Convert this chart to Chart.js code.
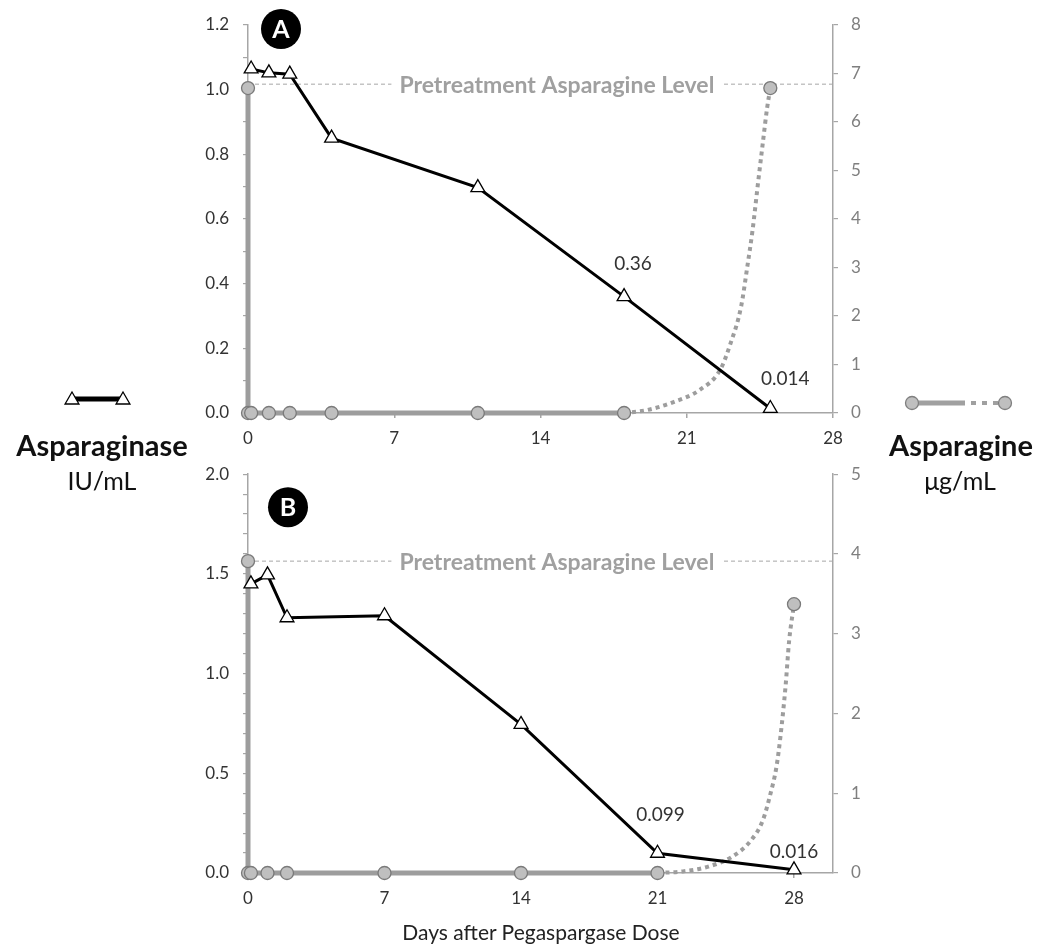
<!DOCTYPE html>
<html>
<head>
<meta charset="utf-8">
<script src="https://cdn.jsdelivr.net/npm/chart.js@4.4.0/dist/chart.umd.min.js"></script>
<style>
  body { margin: 0; background: #fff; font-family: Lato, sans-serif; }
  #wrap { position: relative; width: 1044px; height: 946px; }
  canvas { position: absolute; left: 0; }
  .t { position: absolute; color: #111; white-space: nowrap; transform: translate(-50%, -50%); }
</style>
</head>
<body>
<div id="wrap">
  <canvas id="chartA" width="1044" height="450" style="top:0"></canvas>
  <canvas id="chartB" width="1044" height="496" style="top:450px"></canvas>
  <div class="t" style="left:102px;top:444px;font-size:29px;font-weight:bold">Asparaginase</div>
  <div class="t" style="left:102px;top:480px;font-size:25px">IU/mL</div>
  <div class="t" style="left:961px;top:444px;font-size:29px;font-weight:bold">Asparagine</div>
  <div class="t" style="left:960px;top:480px;font-size:25px">μg/mL</div>
  <div class="t" style="left:541px;top:931px;font-size:21px;color:#222">Days after Pegaspargase Dose</div>
</div>
<script>
// Panel A
const daysA = [0.15, 1, 2, 4, 11, 18, 25];
const asparaginaseA = [1.064, 1.052, 1.048, 0.85, 0.697, 0.36, 0.014];
const asnDaysA = [0, 0, 0.15, 1, 2, 4, 11, 18];
const asparagineA = [6.7, 0, 0, 0, 0, 0, 0, 0];
const recoveryDaysA = [18, 19.1, 20.4, 21.6, 22.6, 23.1, 23.6, 23.9, 24.15, 24.4, 24.65, 24.85, 25];
const recoveryA = [0, 0.06, 0.23, 0.47, 0.89, 1.44, 2.19, 3.02, 3.77, 4.7, 5.6, 6.3, 6.7];
const pretreatmentA = 6.78;
const labeledA = [5, 6];

// Panel B
const daysB = [0.15, 1, 2, 7, 14, 21, 28];
const asparaginaseB = [1.45, 1.495, 1.28, 1.29, 0.745, 0.099, 0.016];
const asnDaysB = [0, 0, 0.15, 1, 2, 7, 14, 21];
const asparagineB = [3.91, 0, 0, 0, 0, 0, 0, 0];
const recoveryDaysB = [21, 22.3, 23.6, 24.8, 25.8, 26.4, 26.8, 27.1, 27.3, 27.57, 27.75, 28];
const recoveryB = [0, 0.02, 0.08, 0.2, 0.41, 0.66, 1.0, 1.33, 1.7, 2.35, 2.91, 3.37];
const pretreatmentB = 3.91;
const labeledB = [5, 6];

const dayTicks = 7;
const preText = 'Pretreatment Asparagine Level';

Chart.defaults.font.family = 'Lato';

const pts = (xs, ys) => xs.map((x, i) => ({ x: x, y: ys[i] }));

const decorations = {
  id: 'decorations',
  afterDatasetsDraw(chart, args, o) {
    const { ctx, chartArea: a, scales } = chart;
    ctx.save();
    // pretreatment label on the dashed line
    const yPre = scales.y2.getPixelForValue(o.pre);
    ctx.font = 'bold 23px Lato';
    ctx.textAlign = 'center';
    ctx.textBaseline = 'middle';
    const cx = a.left + a.width * 0.528;
    const w = ctx.measureText(preText).width;
    ctx.fillStyle = '#fff';
    ctx.fillRect(cx - w / 2 - 8, yPre - 12, w + 16, 24);
    ctx.fillStyle = '#a0a0a0';
    ctx.fillText(preText, cx, yPre + 1);

    // value labels
    ctx.font = '19px Lato';
    ctx.fillStyle = '#333';
    o.labeled.forEach((i, k) => {
      const x = scales.x.getPixelForValue(o.days[i]);
      const y = scales.y.getPixelForValue(o.values[i]);
      ctx.fillText(String(o.values[i]), x + o.offsets[k][0], y + o.offsets[k][1]);
    });

    // panel badge
    ctx.beginPath();
    ctx.arc(a.left + o.badge[0], a.top + o.badge[1], 20, 0, Math.PI * 2);
    ctx.fillStyle = '#000';
    ctx.fill();
    ctx.fillStyle = '#fff';
    ctx.font = 'bold 25px Lato';
    ctx.fillText(o.letter, a.left + o.badge[0], a.top + o.badge[1] + 1);

    // side legend symbols
    if (o.legend) {
      ctx.lineWidth = 5;
      ctx.strokeStyle = '#000';
      ctx.beginPath(); ctx.moveTo(72, 399); ctx.lineTo(123, 399); ctx.stroke();
      [72, 123].forEach(x => {
        ctx.fillStyle = '#fff'; ctx.strokeStyle = '#000'; ctx.lineWidth = 1.3;
        Chart.helpers.drawPoint(ctx, { pointStyle: 'triangle', radius: 8, borderWidth: 1.3 }, x, 400);
      });
      ctx.strokeStyle = '#a0a0a0';
      ctx.lineWidth = 5;
      ctx.beginPath(); ctx.moveTo(912, 403); ctx.lineTo(965, 403); ctx.stroke();
      ctx.setLineDash([5, 6]);
      ctx.lineWidth = 4;
      ctx.beginPath(); ctx.moveTo(971, 403); ctx.lineTo(1000, 403); ctx.stroke();
      ctx.setLineDash([]);
      [912, 1005].forEach(x => {
        ctx.fillStyle = '#bfbfbf'; ctx.strokeStyle = '#7f7f7f'; ctx.lineWidth = 1.3;
        Chart.helpers.drawPoint(ctx, { pointStyle: 'circle', radius: 6.5, borderWidth: 1.3 }, x, 403);
      });
    }
    ctx.restore();
  }
};

function makePanel(id, p) {
  const recLen = p.recDays.length;
  return new Chart(document.getElementById(id), {
    type: 'line',
    data: {
      datasets: [
        {
          label: 'Asparaginase',
          data: pts(p.days, p.ase),
          yAxisID: 'y',
          borderColor: '#000',
          borderWidth: 3,
          pointStyle: 'triangle',
          pointRadius: 8,
          pointBackgroundColor: '#fff',
          pointBorderColor: '#000',
          pointBorderWidth: 1.3,
          clip: false,
          order: 1
        },
        {
          label: 'Asparagine',
          data: pts(p.asnDays, p.asn),
          yAxisID: 'y2',
          borderColor: '#9d9d9d',
          borderWidth: 5,
          pointStyle: 'circle',
          pointRadius: 6.5,
          pointBackgroundColor: '#bfbfbf',
          pointBorderColor: '#7a7a7a',
          pointBorderWidth: 1.3,
          clip: false,
          order: 2
        },
        {
          label: 'Asparagine recovery',
          data: pts(p.recDays, p.rec),
          yAxisID: 'y2',
          borderColor: '#9d9d9d',
          borderWidth: 4,
          borderDash: [4, 4],
          cubicInterpolationMode: 'monotone',
          pointRadius: ctx => ctx.dataIndex === recLen - 1 ? 6.5 : 0,
          pointBackgroundColor: '#bfbfbf',
          pointBorderColor: '#7a7a7a',
          pointBorderWidth: 1.3,
          clip: false,
          order: 3
        },
        {
          label: 'Pretreatment',
          data: pts([0, p.xMax], [p.pre, p.pre]),
          yAxisID: 'y2',
          borderColor: '#a6a6a6',
          borderWidth: 1,
          borderDash: [4, 3],
          pointRadius: 0,
          order: 4
        }
      ]
    },
    options: {
      responsive: false,
      animation: false,
      layout: { padding: p.padding },
      plugins: {
        legend: { display: false },
        tooltip: { enabled: false },
        decorations: {
          pre: p.pre, labeled: p.labeled, days: p.days, values: p.ase,
          offsets: p.offsets, badge: p.badge, letter: p.letter, legend: p.legend
        }
      },
      scales: {
        x: {
          type: 'linear',
          min: 0,
          max: p.xMax,
          afterFit: s => { s.height = 37; },
          ticks: { stepSize: dayTicks, includeBounds: false, color: '#333', font: { size: 17 }, padding: 10 },
          grid: { drawOnChartArea: false, tickLength: 5, color: '#a6a6a6', lineWidth: 1.5 },
          border: { color: '#a6a6a6', width: 1.5 }
        },
        y: {
          position: 'left',
          min: 0,
          max: p.yMax,
          afterFit: s => { s.width = 60; },
          ticks: {
            stepSize: 0.1,
            autoSkip: false,
            color: '#333',
            font: { size: 17 },
            padding: 14,
            callback: v => Math.round(v * 10) % p.major === 0 ? v.toFixed(1) : ''
          },
          grid: { drawOnChartArea: false, tickLength: 5, color: '#a6a6a6', lineWidth: 1.2 },
          border: { color: '#a6a6a6', width: 1.5 }
        },
        y2: {
          position: 'right',
          min: 0,
          max: p.y2Max,
          afterFit: s => { s.width = 60; },
          ticks: { stepSize: 1, color: '#7f7f7f', font: { size: 17 }, padding: 13 },
          grid: { drawOnChartArea: false, tickLength: 5, color: '#a6a6a6', lineWidth: 1.2 },
          border: { color: '#a6a6a6', width: 1.5 }
        }
      }
    },
    plugins: [decorations]
  });
}

makePanel('chartA', {
  days: daysA, ase: asparaginaseA, asnDays: asnDaysA, asn: asparagineA,
  recDays: recoveryDaysA, rec: recoveryA, pre: pretreatmentA, labeled: labeledA,
  offsets: [[9, -33], [15, -30]], badge: [33, 4], letter: 'A', legend: true,
  xMax: 28, yMax: 1.2, y2Max: 8, major: 2,
  padding: { top: 25, left: 188, right: 151, bottom: 0 }
});

makePanel('chartB', {
  days: daysB, ase: asparaginaseB, asnDays: asnDaysB, asn: asparagineB,
  recDays: recoveryDaysB, rec: recoveryB, pre: pretreatmentB, labeled: labeledB,
  offsets: [[3, -38], [0, -18]], badge: [40, 33], letter: 'B', legend: false,
  xMax: 30, yMax: 2.0, y2Max: 5, major: 5,
  padding: { top: 23, left: 188, right: 151, bottom: 36 }
});
</script>
</body>
</html>
